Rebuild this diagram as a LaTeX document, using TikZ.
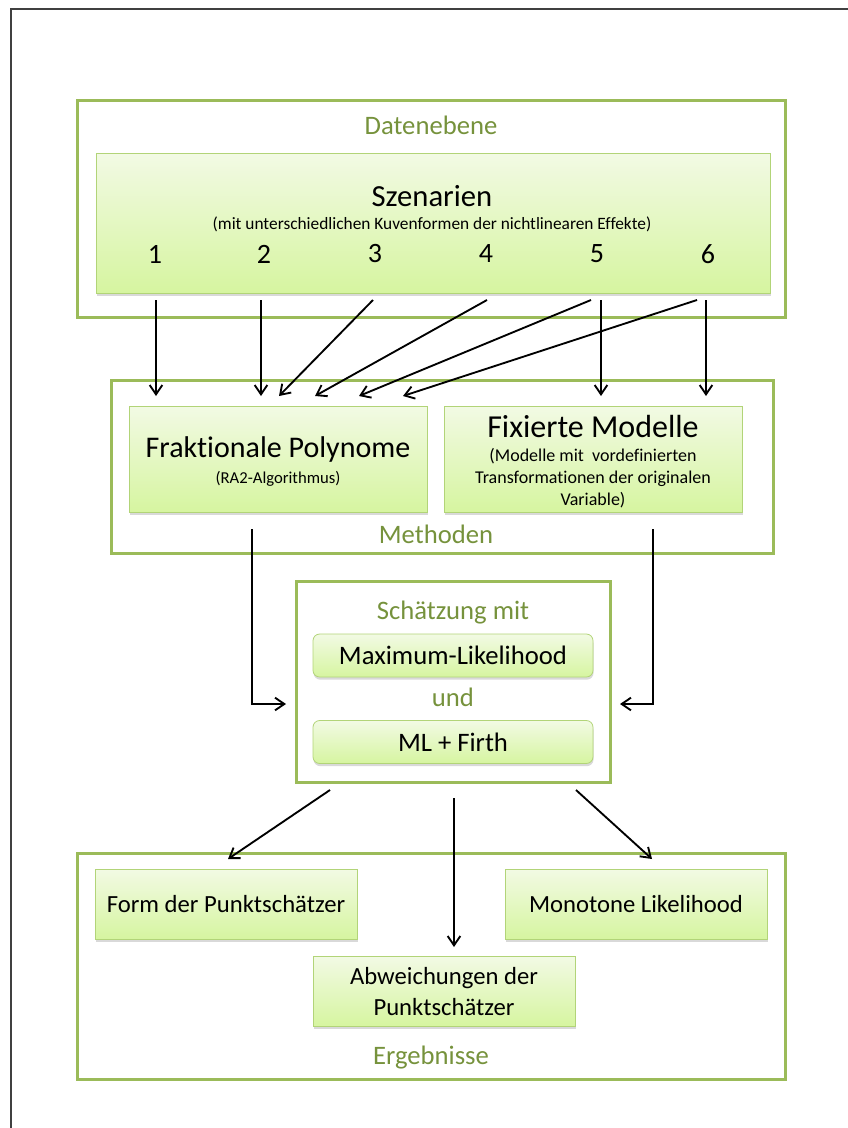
\documentclass[tikz,border=0pt]{standalone}
\usepackage{fontspec}
\setmainfont[Ligatures=NoCommon,Contextuals=NoAlternate,RawFeature={-clig}]{Carlito}
\usetikzlibrary{arrows.meta,shadows,fit}

\definecolor{frameGreen}{RGB}{155,187,89}
\definecolor{labelGreen}{RGB}{118,146,60}
\definecolor{boxLine}{RGB}{178,212,120}
\definecolor{boxTop}{RGB}{242,250,228}
\definecolor{boxBottom}{RGB}{214,245,160}
\definecolor{frameGray}{RGB}{64,64,64}

\tikzset{every picture/.style={line width=0.75pt}}
\tikzset{
  groupbox/.style={draw=frameGreen, line width=2.25pt, inner sep=0pt},
  greenbox/.style={draw=boxLine, line width=0.6pt, top color=boxTop, bottom color=boxBottom,
    inner sep=0pt, align=center,
    drop shadow={shadow xshift=0.4pt, shadow yshift=-2pt, opacity=0.3}},
  grouplabel/.style={text=labelGreen, inner sep=0.75pt, font=\fontsize{20}{24}\selectfont},
  resultbox/.style={greenbox, minimum width=196.5pt, minimum height=52.5pt,
    font=\fontsize{18.5}{23}\selectfont},
  estbox/.style={greenbox, rounded corners=5pt, minimum width=210pt, minimum height=32.25pt,
    font=\fontsize{20}{24}\selectfont},
  flow/.style={line width=1.4pt, -{Straight Barb[length=7pt,width=9.5pt]}},
}

\begin{document}
\begin{tikzpicture}[x=0.75pt,y=0.75pt,yscale=-1,xscale=1]
\useasboundingbox (0,0) rectangle (848,1128);

%Frame
\draw [frameGray, line width=1.5pt] (11,1128) -- (11,9) -- (848,9) ;

%Group boxes
\node [groupbox, fit={(77,100) (785,317)}] (daten) {};
\node [groupbox, fit={(111,380) (773,553)}] (meth) {};
\node [groupbox, fit={(296,581) (610,782)}] (schaetz) {};
\node [groupbox, fit={(77,853) (785,1079)}] (ergeb) {};

% Group labels
\node [grouplabel] (datenlbl) at (431,125) {Datenebene};
\node [grouplabel] (methlbl) at (436,534) {Methoden};
\node [grouplabel] (schaetzlbl) at (453,613) {Schätzung mit};
\node [grouplabel] (undlbl) at (453,697) {und};
\node [grouplabel] (ergeblbl) at (431,1058) {Ergebnisse};

%Szenarien
\node [greenbox, minimum width=505.5pt, minimum height=105pt] (scen) at (433,223) {};
\node [font=\fontsize{23}{27}\selectfont] (scentitle) at (432,196) {Szenarien};
\node [font=\fontsize{13}{16}\selectfont] (scensub) at (432,224) {(mit unterschiedlichen Kuvenformen der nichtlinearen Effekte)};
\foreach \n/\px in {1/155, 2/264, 3/375, 4/486, 5/597, 6/708}
  \node [font=\fontsize{21}{25}\selectfont] (num\n) at (\px,254) {\n};

%Methoden
\node [greenbox, minimum width=223.5pt, minimum height=79.5pt] (fp) at (278,459) {};
\node [font=\fontsize{22.5}{27}\selectfont] (fptitle) at (278,449) {Fraktionale Polynome};
\node [font=\fontsize{12.5}{15}\selectfont] (fpsub) at (278,479) {(RA2-Algorithmus)};
\node [greenbox, minimum width=223.5pt, minimum height=79.5pt] (fm) at (593,459) {};
\node [font=\fontsize{24}{28}\selectfont] (fmtitle) at (593,427) {Fixierte Modelle};
\node [font=\fontsize{13.5}{16.5}\selectfont, align=center] (fmsub) at (593,478)
  {(Modelle mit\ \ vordefinierten\\Transformationen der originalen\\Variable)};

%Schaetzung
\node [estbox] (ml) at (453,655.5) {Maximum-Likelihood};
\node [estbox] (firth) at (453,742) {ML + Firth};

%Ergebnisse
\node [resultbox] (form) at (226,904) {Form der Punktschätzer};
\node [resultbox] (mono) at (636,904) {Monotone Likelihood};
\node [resultbox] (abw) at (444,991.5) {Abweichungen der\\Punktschätzer};

%Straight Lines: scenarios to methods
\foreach \n/\sx/\tx in {1/156/156, 2/261/261, 3/373/279, 4/487/315, 5/591/359, 6/601/601, 7/697/403, 8/706/706}{
  \coordinate (from\n) at (\sx,300);
  \coordinate (to\n) at (\tx,396);
  \draw [flow] (from\n) -- (to\n);
}

%Straight Lines: methods to estimation
\coordinate (fpout) at (252,529);
\coordinate (fmout) at (653,529);
\coordinate (estin) at (286,704);
\coordinate (estinr) at (620,704);
\draw [flow] (fpout) |- (estin);
\draw [flow] (fmout) |- (estinr);

%Straight Lines: estimation to results
\coordinate (outl) at (330,790);
\coordinate (outm) at (454,798);
\coordinate (outr) at (576,790);
\coordinate (inl) at (228,859);
\coordinate (inm) at (454,947);
\coordinate (inr) at (652,859);
\draw [flow] (outl) -- (inl);
\draw [flow] (outm) -- (inm);
\draw [flow] (outr) -- (inr);

\end{tikzpicture}
\end{document}
